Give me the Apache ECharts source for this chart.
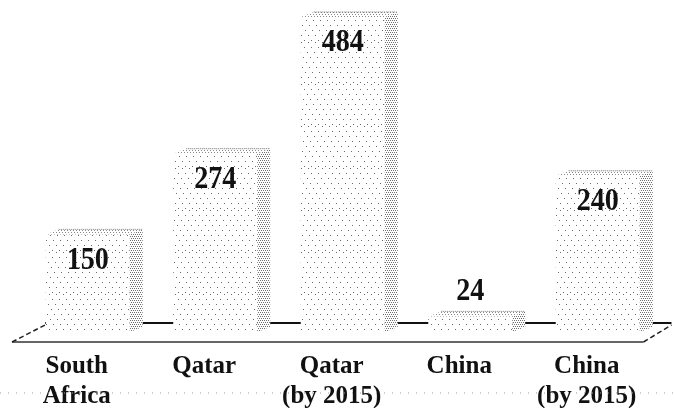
<!DOCTYPE html>
<html>
<head>
<meta charset="utf-8">
<script src="https://cdn.jsdelivr.net/npm/echarts@6/dist/echarts.min.js"></script>
<style>
  html, body { margin: 0; padding: 0; background: #fff; }
  #chart { width: 674px; height: 408px; }
</style>
</head>
<body>
<div id="chart"></div>
<script>
// Chart data
const categories = ['South\nAfrica', 'Qatar', 'Qatar\n(by 2015)', 'China', 'China\n(by 2015)'];
const values = [150, 274, 484, 24, 240];
const valueMax = 484;

// Stippled fill tiles drawn on small canvases (regular staggered dot lattice)
function stipple(size, step, rowStep, shift, color) {
  const c = document.createElement('canvas');
  c.width = size; c.height = size;
  const g = c.getContext('2d');
  g.fillStyle = '#fff';
  g.fillRect(0, 0, size, size);
  g.fillStyle = color;
  for (let r = 0, y = 0; y < size; r++, y += rowStep) {
    const off = (r * shift) % step;
    for (let x = off; x < size; x += step) {
      g.fillRect(Math.floor(x), y, 1, 1);
    }
  }
  return { image: c, repeat: 'repeat' };
}
const frontFill = stipple(42, 7, 5, 3, '#6a6a6a');
const sideFill = stipple(24, 2, 2, 1, '#6f6f6f');
const topFill = stipple(24, 3, 2, 1, '#8a8a8a');

const FONT = '"Liberation Serif", "Times New Roman", serif';
const BAR_W = 84, DEPTH_X = 13, DEPTH_Y = 5;

function renderBar(params, api) {
  const idx = api.value(0);
  const val = api.value(1);
  const topPt = api.coord([idx, val]);
  const basePt = api.coord([idx, 0]);
  const cx = topPt[0];
  const l = cx - BAR_W / 2, r = cx + BAR_W / 2;
  const top = topPt[1], bot = basePt[1];
  const tall = bot - top > 60;
  const ty = tall ? top + 26 : top - 25;
  return {
    type: 'group',
    children: [
      { type: 'rect', shape: { x: l, y: top, width: BAR_W, height: bot - top },
        style: { fill: frontFill } },
      { type: 'polygon', shape: { points: [[r, top], [r + DEPTH_X, top - DEPTH_Y], [r + DEPTH_X, bot - DEPTH_Y], [r, bot]] },
        style: { fill: sideFill } },
      { type: 'polygon', shape: { points: [[l, top], [l + DEPTH_X, top - DEPTH_Y], [r + DEPTH_X, top - DEPTH_Y], [r, top]] },
        style: { fill: topFill } },
      { type: 'polyline', shape: { points: [[l + DEPTH_X, top - DEPTH_Y], [r + DEPTH_X, top - DEPTH_Y]] },
        style: { stroke: '#777', lineWidth: 1, lineDash: [1, 1], fill: null } },
      { type: 'text',
        x: cx, y: ty, scaleX: 0.88,
        style: { text: String(val), x: 0, y: 0,
                 align: 'center', verticalAlign: 'middle',
                 font: 'bold 32px ' + FONT, fill: '#111' } }
    ]
  };
}

function renderFloor(params, api) {
  const cs = params.coordSys;
  const base = cs.y + cs.height;
  const backY = base - 9, frontY = base + 10;
  const fl = cs.x - 12, bl = cs.x + 21;
  const fr = cs.x + cs.width - 18, br = cs.x + cs.width + 10;
  return {
    type: 'group',
    children: [
      { type: 'line', shape: { x1: 0, y1: base + 61, x2: 674, y2: base + 61 },
        style: { stroke: '#999', lineWidth: 1, lineDash: [1, 7] } },
      { type: 'line', shape: { x1: bl, y1: backY, x2: br, y2: backY },
        style: { stroke: '#111', lineWidth: 2 } },
      { type: 'line', shape: { x1: fl, y1: frontY, x2: fr, y2: frontY },
        style: { stroke: '#333', lineWidth: 1.5 } },
      { type: 'line', shape: { x1: fl, y1: frontY, x2: bl, y2: backY + 2 },
        style: { stroke: '#222', lineWidth: 1.5, lineDash: [5, 3] } },
      { type: 'line', shape: { x1: fr, y1: frontY, x2: br, y2: backY + 2 },
        style: { stroke: '#222', lineWidth: 1.5, lineDash: [5, 3] } }
    ]
  };
}

const chart = echarts.init(document.getElementById('chart'), null, { renderer: 'canvas' });
chart.setOption({
  animation: false,
  backgroundColor: '#fff',
  grid: { left: 24, right: 12.5, top: 17, bottom: 76, containLabel: false, outerBoundsMode: 'none' },
  xAxis: {
    type: 'category',
    data: categories,
    axisLine: { show: false },
    axisTick: { show: false },
    splitLine: { show: false },
    axisLabel: {
      interval: 0,
      margin: 20,
      padding: [0, 22, 0, 0],
      fontFamily: FONT,
      fontWeight: 'bold',
      fontSize: 25,
      lineHeight: 30,
      color: '#111'
    }
  },
  yAxis: { type: 'value', min: 0, max: valueMax, show: false },
  series: [
    { type: 'custom', name: 'floor', z: 1, silent: true,
      renderItem: renderFloor, data: [[0, 0]] },
    { type: 'custom', name: 'bars', z: 2,
      renderItem: renderBar,
      encode: { x: 0, y: 1 },
      data: values.map((v, i) => [i, v]) }
  ]
});
</script>
</body>
</html>
